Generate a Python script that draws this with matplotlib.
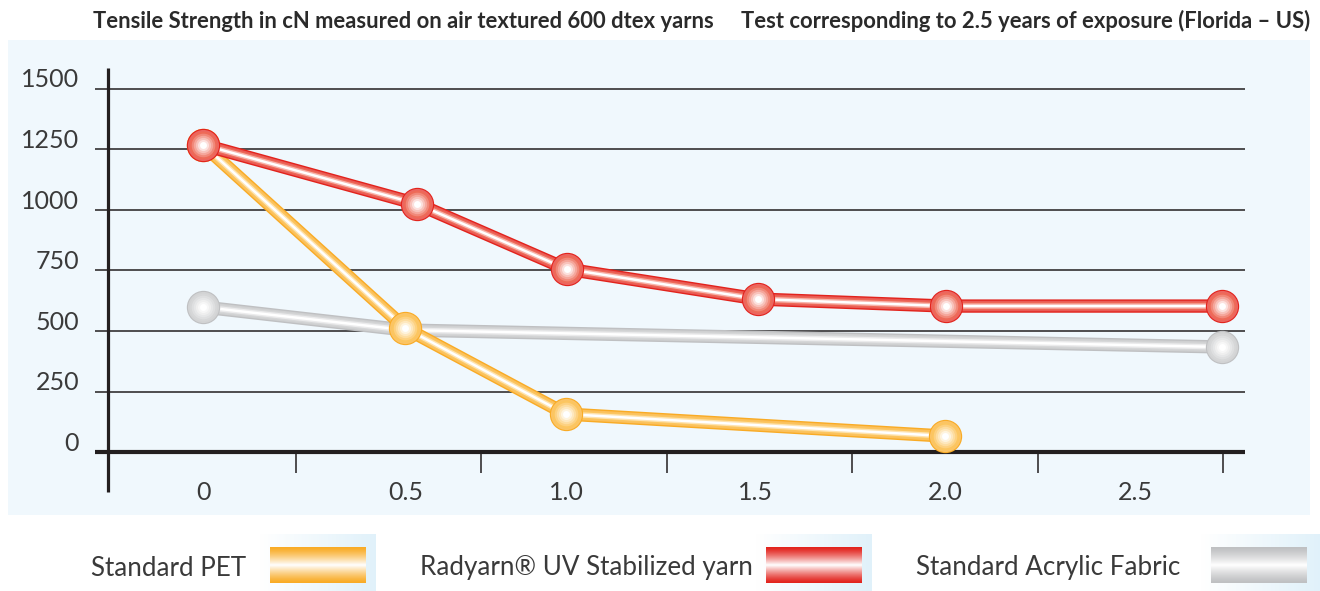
import numpy as np
import matplotlib
matplotlib.use("Agg")
import matplotlib.pyplot as plt
from matplotlib import font_manager
from matplotlib.colors import to_rgb

# Data (years of exposure vs tensile strength, cN)
red_years = [0.0, 0.577, 0.98, 1.496, 2.003, 2.747]
red_cn = [1269, 1025, 756, 632, 603, 603]

pet_years = [0.0, 0.545, 0.978, 2.0]
pet_cn = [1269, 512, 157, 66]

acr_years = [0.0, 0.545, 2.747]
acr_cn = [599, 504, 434]
acr_marked = [True, False, True]

y_ticks = [0, 250, 500, 750, 1000, 1250, 1500]
x_tick_marks = [0.25, 0.75, 1.25, 1.75, 2.25, 2.75]
x_label_pos = [0.0, 0.545, 0.98, 1.488, 2.0, 2.512]
x_labels = ["0", "0.5", "1.0", "1.5", "2.0", "2.5"]

title_left = "Tensile Strength in cN measured on air textured 600 dtex yarns"
title_right = "Test corresponding to 2.5 years of exposure (Florida \u2013 US)"
legend_names = ["Standard PET", "Radyarn\u00ae UV Stabilized yarn", "Standard Acrylic Fabric"]

# colours: (edge, mid)
C_PET = ("#f9ab25", "#fcc660")
C_RED = ("#e2231c", "#ee6a58")
C_ACR = ("#bfc0c2", "#d6d7d8")

names = {f.name for f in font_manager.fontManager.ttflist}
FONT = "Liberation Sans Narrow"
for cand in ["Liberation Sans Narrow", "Lato", "Open Sans", "DejaVu Sans"]:
    if cand in names:
        FONT = cand
        break
TXT = "#3a3a3a"

W, H = 1320, 591
fig = plt.figure(figsize=(W / 100, H / 100), dpi=100)
fig.patch.set_facecolor("white")
renderer = fig.canvas.get_renderer()


def fx(px):
    return px / W


def fy(py):
    return 1 - py / H


def fit(t, width_px):
    # scale the font so the text spans the width seen in the reference
    w = t.get_window_extent(renderer).width
    t.set_fontsize(t.get_fontsize() * width_px / w)


# main panel
ax = fig.add_axes([fx(8), fy(515), fx(1310 - 8), (515 - 40) / H])
ax.set_xlim(-0.526, 2.984)
ax.set_ylim(-260, 1702)
ax.set_facecolor("#f0f8fd")
for s in ax.spines.values():
    s.set_visible(False)
ax.set_xticks([])
ax.set_yticks([])

x0, x1 = -0.291, 2.809
ax.hlines(y_ticks[1:], x0, x1, color="#231f20", lw=1.1, zorder=1)
ax.hlines(0, x0, x1, color="#231f20", lw=3.0, zorder=1)
ax.vlines(-0.256, -165, 1587, color="#231f20", lw=2.3, zorder=1)
ax.vlines(x_tick_marks, -87, 0, color="#231f20", lw=1.1, zorder=1)

for v in y_ticks:
    t = ax.text(-0.334, v + 6, str(v), ha="right", va="baseline", fontsize=20,
                family=FONT, color=TXT)
    if v == 1500:
        fit(t, 58)
        lab_size = t.get_fontsize()
for t in ax.texts:
    t.set_fontsize(lab_size)
for p, lab in zip(x_label_pos, x_labels):
    ax.text(p, -169, lab, ha="center", va="center", fontsize=lab_size,
            family=FONT, color=TXT)


def blend(c, t):
    c = np.array(to_rgb(c))
    return tuple(c + (1 - c) * t)


def tube(x, y, cols, z):
    edge, mid = cols
    layers = [(9.6, edge), (7.6, blend(edge, 0.25)), (5.6, mid),
              (3.8, blend(mid, 0.5)), (1.8, "white")]
    for lw, c in layers:
        ax.plot(x, y, color=c, lw=lw, solid_joinstyle="round",
                solid_capstyle="butt", zorder=z)


def spheres(x, y, cols, z):
    edge, mid = cols
    sizes = [24, 22.4, 20, 17, 14, 11, 8, 5]
    for i, ms in enumerate(sizes):
        if i == 0:
            c = edge
        elif i == 1:
            c = blend(edge, 0.3)
        else:
            c = blend(mid, (i - 2) / (len(sizes) - 3))
        ax.plot(x, y, "o", ms=ms, color=c, mec="none", zorder=z + 0.5)


tube(acr_years, acr_cn, C_ACR, 3)
spheres([a for a, m in zip(acr_years, acr_marked) if m],
        [b for b, m in zip(acr_cn, acr_marked) if m], C_ACR, 3)
tube(pet_years, pet_cn, C_PET, 4)
spheres(pet_years, pet_cn, C_PET, 4)
tube(red_years, red_cn, C_RED, 5)
spheres(red_years, red_cn, C_RED, 5)

# title
t1 = fig.text(fx(93), fy(21), title_left, ha="left", va="center", fontsize=14,
              family=FONT, weight="bold", color="#2a2a2a")
fit(t1, 622)
t2 = fig.text(fx(1310), fy(21), title_right, ha="right", va="center",
              fontsize=t1.get_fontsize(), family=FONT, weight="bold", color="#2a2a2a")

# legend
legend_text_x = [91, 420, 916]
legend_text_w = [155, 317, 270]
legend_box = [(259, 376), (755, 872), (1200, 1320)]
legend_cols = [C_PET, C_RED, C_ACR]
bg = np.linspace(0, 1, 64)
bg_img = np.array([[blend("#d9eef9", 1 - t * 0.8) for t in bg[::-1]]])
leg_size = None
for name, tx, tw, (bx0, bx1), cols in zip(legend_names, legend_text_x, legend_text_w,
                                          legend_box, legend_cols):
    t = fig.text(fx(tx), fy(568), name, ha="left", va="center", fontsize=21,
                 family=FONT, color=TXT)
    if leg_size is None:
        fit(t, tw)
        leg_size = t.get_fontsize()
    t.set_fontsize(leg_size)
    bax = fig.add_axes([fx(bx0), 0, fx(bx1 - bx0), (591 - 534) / H])
    bax.imshow(bg_img[:, ::-1], aspect="auto", extent=[0, 1, 0, 1])
    bax.set_xlim(0, 1)
    bax.set_ylim(0, 1)
    bax.axis("off")
    # gradient bar: strong at top and bottom, white in middle
    v = np.abs(np.linspace(-1, 1, 60))
    edge, mid = cols
    rows = [blend(edge, (1 - a) ** 1.3) if a > 0.0 else (1, 1, 1) for a in v]
    bar = np.array(rows)[:, None, :]
    bw = bx1 - bx0
    bax.imshow(bar, aspect="auto", extent=[11 / bw, (11 + 96) / bw,
                                           (591 - 583) / 57, (591 - 547) / 57])

fig.savefig("out.png", dpi=100)
